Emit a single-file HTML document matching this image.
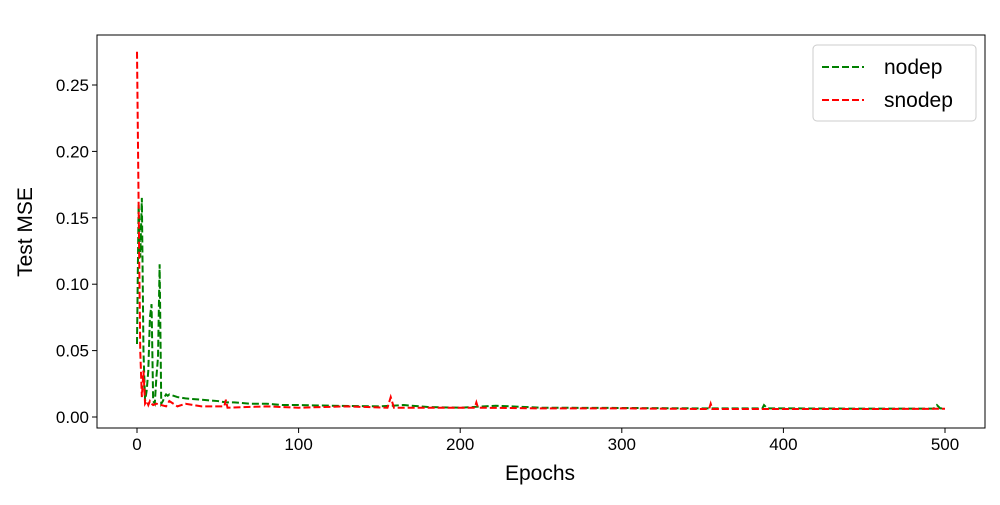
<!DOCTYPE html>
<html><head><meta charset="utf-8"><style>
body{margin:0;background:#fff;}
svg text{font-family:"Liberation Sans","DejaVu Sans",sans-serif;fill:#000;}
</style></head><body>
<svg id="c" width="1000" height="500"></svg>
<script>
const epochsNodep=[0,1,2,3,4,5,6,7,8,9,10,11,12,13,14,15,16,17,18,19,20,25,30,40,50,55,60,70,80,90,100,120,150,165,180,200,222,250,300,350,387,388,390,400,450,490,493,495,497,500];
const valsNodep=[0.055,0.16,0.12,0.165,0.05,0.012,0.02,0.035,0.075,0.085,0.012,0.01,0.03,0.045,0.115,0.01,0.012,0.015,0.017,0.016,0.017,0.015,0.014,0.013,0.012,0.011,0.011,0.01,0.01,0.009,0.009,0.0085,0.008,0.009,0.0075,0.007,0.0085,0.007,0.0068,0.0065,0.0065,0.009,0.0065,0.0065,0.0063,0.0063,0.0063,0.009,0.0065,0.0065];
const epochsSnodep=[0,1,2,3,4,5,6,7,8,9,10,12,15,18,20,25,30,40,54,55,56,80,100,130,155,157,159,200,209,210,211,250,300,354,355,356,400,450,500];
const valsSnodep=[0.275,0.16,0.05,0.015,0.035,0.01,0.012,0.009,0.012,0.01,0.009,0.01,0.009,0.008,0.012,0.008,0.01,0.008,0.008,0.013,0.007,0.008,0.007,0.008,0.007,0.015,0.007,0.007,0.007,0.011,0.007,0.0065,0.0065,0.006,0.01,0.006,0.006,0.006,0.0062];
const xTicks=[0,100,200,300,400,500];
const yTicks=[0,0.05,0.10,0.15,0.20,0.25];
const yLabels=["0.00","0.05","0.10","0.15","0.20","0.25"];
const NS="http://www.w3.org/2000/svg";
const svg=document.getElementById('c');
const L=97,R=985,T=35,B=428;
const X=v=>137+v*(945-137)/500;
const Y=v=>417-v*(417-85)/0.25;
function el(t,a,p){const e=document.createElementNS(NS,t);for(const k in a)e.setAttribute(k,a[k]);(p||svg).appendChild(e);return e;}
const frame=el('rect',{x:L,y:T,width:R-L,height:B-T,fill:'none',stroke:'#000','stroke-width':1});


xTicks.forEach(v=>{
 const g=el('g',{});
 
 
 el('line',{x1:X(v),x2:X(v),y1:B,y2:B+5,stroke:'#000'},g);
 const t=el('text',{x:X(v),y:B+22,'text-anchor':'middle','font-size':17},g);t.textContent=v;
});
yTicks.forEach((v,i)=>{
 const g=el('g',{});
 
 
 el('line',{x1:L-5,x2:L,y1:Y(v),y2:Y(v),stroke:'#000'},g);
 const t=el('text',{x:L-8,y:Y(v)+6,'text-anchor':'end','font-size':17},g);t.textContent=yLabels[i];
});
const xt=el('text',{x:540,y:480,'text-anchor':'middle','font-size':21});xt.textContent='Epochs';


const yt=el('text',{x:32,y:232,'text-anchor':'middle','font-size':21,transform:'rotate(-90 32 232)'});yt.textContent='Test MSE';


function series(xs,ys,col,name){
 const p=el('polyline',{points:xs.map((x,i)=>X(x)+','+Y(ys[i])).join(' '),fill:'none',stroke:col,'stroke-width':2,'stroke-dasharray':'7,3'});
 
 
}
series(epochsNodep,valsNodep,'#008000','nodep-line');
series(epochsSnodep,valsSnodep,'#ff0000','snodep-line');
const lg=el('g',{});


el('rect',{x:813,y:45,width:163,height:76,rx:4,fill:'#fff',stroke:'#ccc'},lg);
[['nodep','#008000',67],['snodep','#ff0000',100]].forEach(([n,c,y])=>{
 const g=el('g',{},lg);
 
 
 el('line',{x1:822,x2:864,y1:y,y2:y,stroke:c,'stroke-width':2,'stroke-dasharray':'7,3'},g);
 const t=el('text',{x:884,y:y+7,'font-size':21},g);t.textContent=n;
});
</script>
</body></html>
